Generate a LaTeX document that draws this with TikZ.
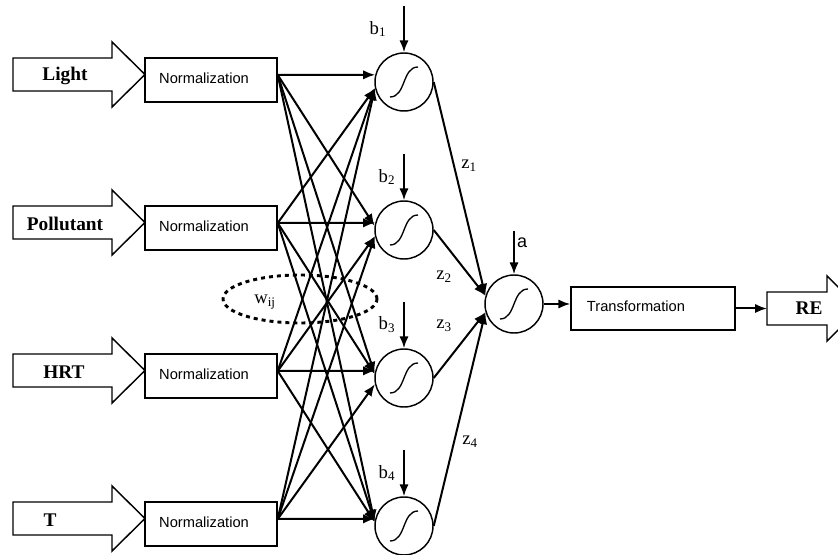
\documentclass[tikz,border=0pt]{standalone}
\usepackage{fontspec}
\setmainfont{Liberation Serif}
\setsansfont{Liberation Sans}
\usetikzlibrary{arrows.meta,shapes.geometric}
\begin{document}
\begin{tikzpicture}[x=0.75pt,y=-0.75pt,
  normbox/.style={draw,line width=1.1pt,minimum width=99pt,minimum height=33pt,inner sep=0pt},
  neuron/.style={draw,circle,line width=1.1pt,minimum size=43.5pt,inner sep=0pt},
  conn/.style={line width=1.5pt,-{Latex[length=9pt,width=7pt]}},
  sig/.style={line width=1pt},
  blockarrow/.style={draw,line width=1.1pt,line join=miter},
  boldlbl/.style={font=\fontsize{14.5}{16}\selectfont\bfseries,inner sep=0pt},
  sanslbl/.style={font=\sffamily\fontsize{11}{13}\selectfont,inner sep=0pt},
  varlbl/.style={font=\fontsize{14}{16}\selectfont,inner sep=0pt},
  dotring/.style={draw,ellipse,line width=2.2pt,dash pattern=on 3pt off 3pt,inner sep=0pt}
]
\useasboundingbox (0,0) rectangle (838,555);
\clip (0,0) rectangle (838,555);

% dotted ellipse for weights
\node[dotring,minimum width=115.5pt,minimum height=36pt] (wring) at (300,299) {};
\node[varlbl] (wlbl) at (265,302) {w\textsubscript{ij}};

% input rows
\foreach \i/\name/\lx in {1/Light/65,2/Pollutant/65,3/HRT/64,4/T/50}{
  \pgfmathsetmacro\T{58+148*(\i-1)}
  \draw[blockarrow] (13,\T) -- (112,\T) -- (112,{\T-16}) -- (145,{\T+16.5})
     -- (112,{\T+49}) -- (112,{\T+33}) -- (13,{\T+33}) -- cycle;
  \node[boldlbl] (in\i) at (\lx,{\T+18}) {\name};
  \node[normbox] (n\i) at (211,{\T+22}) {};
  \node[sanslbl] (nt\i) at (204,{\T+20}) {Normalization};
}

% hidden neurons
\foreach \j/\bx in {1/378,2/387,3/387,4/387}{
  \pgfmathsetmacro\Y{82+148*(\j-1)}
  \node[neuron] (h\j) at (404,\Y) {};
  \draw[sig,shift={(h\j.center)}] (-14,15) .. controls (2,15) and (-2,-15) .. (14,-15);
  \coordinate (bt\j) at (404,{\Y-76});
  \draw[conn] (bt\j) -- (h\j.north);
  \node[varlbl] (bl\j) at (\bx,{\Y-53}) {b\textsubscript{\j}};
}

% input to hidden connections
\foreach \i in {1,...,4}{
  \foreach \j in {1,...,4}{
    \pgfmathtruncatemacro\ang{\i<\j ? 172 : (\i==\j ? 166 : 192)}
    \draw[conn] ([yshift=3.75pt]n\i.east) -- (h\j.\ang);
  }
}

% output neuron
\node[neuron] (o) at (514,304) {};
\draw[sig,shift={(o.center)}] (-14,15) .. controls (2,15) and (-2,-15) .. (14,-15);
\coordinate (abt) at (514,231);
\draw[conn] (abt) -- (o.north);
\node[font=\sffamily\fontsize{13.5}{15}\selectfont,inner sep=0pt] (albl) at (522,243) {a};

\draw[conn] (h1.east) -- (o.164);
\draw[conn] (h2.east) -- (o.164);
\draw[conn] (h3.east) -- (o.196);
\draw[conn] (h4.east) -- (o.196);
\node[varlbl] (z1) at (469,166) {z\textsubscript{1}};
\node[varlbl] (z2) at (444,277) {z\textsubscript{2}};
\node[varlbl] (z3) at (444,326) {z\textsubscript{3}};
\node[varlbl] (z4) at (470,442) {z\textsubscript{4}};

% transformation
\node[normbox,minimum width=123pt,minimum height=32.25pt] (t) at (653,308.5) {};
\node[sanslbl] (tt) at (636,306) {Transformation};
\draw[conn] (o.east) -- (o.east -| t.west);

% RE output arrow
\draw[blockarrow] (767,292) -- (827,292) -- (827,276) -- (860,308.5) -- (827,341)
   -- (827,325) -- (767,325) -- cycle;
\coordinate (rein) at (767,308.5);
\node[boldlbl] (re) at (809,308) {RE};
\draw[conn] (t.east) -- (rein);
\end{tikzpicture}
\end{document}
